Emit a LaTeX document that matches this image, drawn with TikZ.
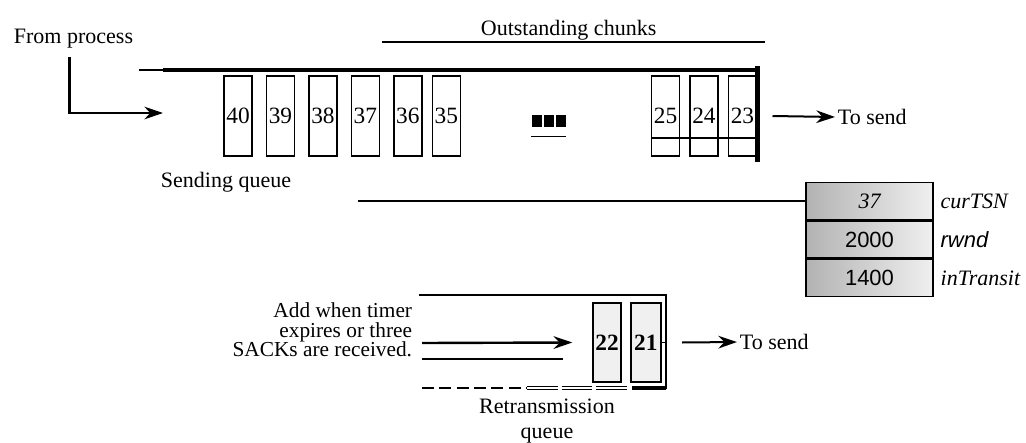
\documentclass[tikz,border=0pt]{standalone}
\usepackage{fontspec}
\setmainfont{Liberation Serif}
\newfontfamily\labelsans{Liberation Sans}
\usetikzlibrary{arrows.meta, positioning}

\begin{document}
\begin{tikzpicture}[x=0.75pt, y=-0.75pt, >={Stealth[length=14pt, width=9.5pt]},
    every node/.style={inner sep=2pt, font=\fontsize{16.5}{19}\selectfont},
    chunk/.style={draw, line width=1.1pt, minimum width=21pt,
                  minimum height=60pt, inner sep=0pt,
                  font=\fontsize{17.5}{19}\selectfont},
    varbox/.style={draw, line width=1.1pt, minimum width=95.25pt,
                   minimum height=27.75pt, inner sep=0pt,
                   left color=gray!60, right color=gray!12},
    varname/.style={font=\fontsize{16.5}{19}\selectfont\itshape}]
  \useasboundingbox (0,0) rectangle (1026,443);

  % sending queue
  \node[anchor=base west] (from) at (11,43) {From process};
  \node[anchor=base west] (outst) at (478,35) {Outstanding chunks};
  \coordinate (outl) at (382,42);
  \coordinate (outr) at (765,42);
  \draw[line width=1.1pt] (outl) -- (outr);

  \coordinate (qstart) at (139,70);
  \coordinate (qthick) at (163,70);
  \coordinate (qend) at (757,70);
  \coordinate (bartop) at (757,66);
  \coordinate (barbot) at (757,162);
  \draw[line width=1.5pt] (qstart) -- (qthick);
  \draw[line width=2.6pt] (qthick) -- (qend);
  \draw[line width=3.75pt] (bartop) -- (barbot);

  \coordinate (qin) at (163,113);
  \draw[->, line width=1.9pt] ([xshift=-3pt, yshift=-5pt]from.south) |- (qin);

  \node[chunk] (c40) at (238,116) {40};
  \node[chunk, right=9.75pt of c40] (c39) {39};
  \node[chunk, right=9.75pt of c39] (c38) {38};
  \node[chunk, right=9.75pt of c38] (c37) {37};
  \node[chunk, right=9.75pt of c37] (c36) {36};
  \node[chunk, right=6.75pt of c36] (c35) {35};
  \node[anchor=base west] (sendq) at (158,187) {Sending queue};

  \node[inner sep=0pt] (more) at (548.5,121)
    {\rule{7.5pt}{9pt}\hspace{1.5pt}\rule{7.5pt}{9pt}\hspace{1.5pt}\rule{7.5pt}{9pt}};
  \draw[line width=0.8pt] ([yshift=-7pt]more.south west) -- ([yshift=-7pt]more.south east);

  \node[chunk] (c25) at (665.5,116) {25};
  \node[chunk, right=6.75pt of c25] (c24) {24};
  \node[chunk, right=6.75pt of c24] (c23) {23};
  \coordinate (slotline) at (0,138);
  \draw[line width=0.8pt] (c25.west |- slotline) -- (barbot |- slotline);

  \node[anchor=west] (tosend) at (835,117) {To send};
  \draw[->, line width=1.5pt] ([xshift=11.5pt]c23.east) -- (tosend.west);

  % control variables
  \node[varbox] (vcur) at (869.5,201) {\itshape 37};
  \node[varbox, below=0pt of vcur] (vrwnd) {\labelsans 2000};
  \node[varbox, below=0pt of vrwnd] (vtrans) {\labelsans 1400};
  \node[varname, right=3pt of vcur] (lcur) {curTSN};
  \node[varname, font=\fontsize{16.5}{19}\selectfont\labelsans\itshape,
        right=3pt of vrwnd] (lrwnd) {rwnd};
  \node[varname, right=3pt of vtrans] (ltrans) {inTransit};
  \coordinate (tsnptr) at (358,201);
  \draw[line width=1.1pt] (tsnptr) -- (vcur.west);

  % retransmission queue
  \coordinate (rtop) at (419,295);
  \coordinate (rthick) at (629,295);
  \coordinate (rcorner) at (666,295);
  \coordinate (rbot) at (666,389);
  \draw[line width=1.1pt] (rtop) -- (rthick);
  \draw[line width=2.2pt] (rthick) -- (rcorner) -- (rbot);

  \node[chunk, minimum height=59.25pt, fill=gray!12] (c22) at (607,342.5)
    {\bfseries 22};
  \node[chunk, minimum width=22.5pt, minimum height=59.25pt, line width=1.7pt,
        fill=gray!12, right=6pt of c22] (c21) {\bfseries 21};
  \draw[line width=1.1pt] (c21.east) -- (c21.east -| rcorner);

  \coordinate (rdash) at (422,388);
  \coordinate (rdouble) at (527,388);
  \coordinate (rdoubleend) at (628,388);
  \coordinate (rbase) at (632,388);
  \draw[line width=1.8pt, dash pattern=on 9pt off 4pt] (rdash) -- (rdouble);
  \draw[double, double distance=1.1pt, line width=1.1pt,
        dash pattern=on 23pt off 3pt] (rdouble) -- (rdoubleend);
  \draw[line width=3pt] (rbase) -- (rbot |- rbase);

  \node[anchor=east, align=right, font=\fontsize{16}{14.6}\selectfont] (addnote)
    at (415,330) {Add when timer\\expires or three\\SACKs are received.};
  \coordinate (addstart) at (422,343);
  \coordinate (addline) at (422,359);
  \coordinate (addlineend) at (563,359);
  \draw[->, line width=1.8pt] (addstart) -- ([xshift=-15pt]c22.west);
  \draw[line width=1.1pt] (addline) -- (addlineend);

  \node[anchor=west] (resend) at (737,342) {To send};
  \draw[->, line width=1.5pt] ([xshift=15pt]c21.east) -- (resend.west);

  \node[align=center, font=\fontsize{16.5}{18.75}\selectfont] (retq) at (547,421)
    {Retransmission\\queue};
\end{tikzpicture}
\end{document}
